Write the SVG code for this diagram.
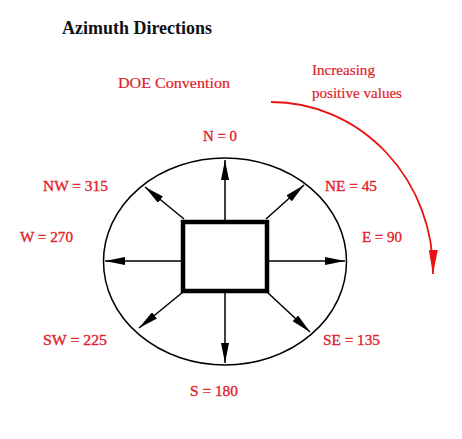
<svg xmlns="http://www.w3.org/2000/svg" width="462" height="439" viewBox="0 0 462 439">
<style>
.lbl{font-family:"Liberation Serif","Times New Roman",serif;font-size:15px;fill:#e0222a;stroke:#e0222a;stroke-width:0.35;text-anchor:middle}
.ttl{font-family:"Liberation Serif","Times New Roman",serif;font-size:18px;font-weight:bold;fill:#111}
.red{font-family:"Liberation Serif","Times New Roman",serif;font-size:15px;fill:#e0222a;stroke:#e0222a;stroke-width:0.2}
.ar{stroke:#000;stroke-width:1.5;fill:none;marker-end:url(#ah)}
</style>
<defs>
<marker id="ah" markerUnits="userSpaceOnUse" markerWidth="20" markerHeight="8" refX="20" refY="4" orient="auto">
<path d="M0,0 L20,4 L0,8 z" fill="#000"/>
</marker>
<marker id="rh" markerUnits="userSpaceOnUse" markerWidth="24" markerHeight="9" refX="24" refY="4.5" orient="auto">
<path d="M0,0 L24,4.5 L0,9 z" fill="#e81414"/>
</marker>
</defs>
<rect width="462" height="439" fill="#fff"/>
<text id="title" class="ttl" x="62" y="34" textLength="150" lengthAdjust="spacingAndGlyphs">Azimuth Directions</text>
<g id="doe"><text class="red" x="174" y="88" text-anchor="middle" textLength="112" lengthAdjust="spacingAndGlyphs">DOE Convention</text></g>
<g id="increasing"><text class="red" x="312" y="75" textLength="63" lengthAdjust="spacingAndGlyphs">Increasing</text><text class="red" x="312" y="98" textLength="90" lengthAdjust="spacingAndGlyphs">positive values</text></g>
<g id="compass">
<ellipse cx="225" cy="261.5" rx="121.5" ry="103.5" fill="none" stroke="#000" stroke-width="1.5"/>
</g>
<g id="building"><rect x="183" y="222" width="84" height="69" fill="#fff" stroke="#000" stroke-width="4.5"/></g>
<g id="connectors">
<line class="ar" x1="225" y1="220" x2="225" y2="160"/>
<line class="ar" x1="225" y1="293" x2="225" y2="363"/>
<line class="ar" x1="269" y1="261" x2="345" y2="261"/>
<line class="ar" x1="181" y1="261" x2="105" y2="261"/>
<line class="ar" x1="266" y1="219" x2="304" y2="185"/>
<line class="ar" x1="184" y1="219" x2="145" y2="187"/>
<line class="ar" x1="183" y1="292" x2="139" y2="328"/>
<line class="ar" x1="267" y1="292" x2="310" y2="332"/>
<path d="M271,102 A162,170 0 0 1 433,274" fill="none" stroke="#e81414" stroke-width="1.8" marker-end="url(#rh)"/>
</g>
<g id="n"><text class="lbl" x="220" y="141" textLength="34" lengthAdjust="spacingAndGlyphs">N = 0</text></g>
<g id="nw"><text class="lbl" x="75.5" y="191" textLength="65" lengthAdjust="spacingAndGlyphs">NW = 315</text></g>
<g id="ne"><text class="lbl" x="351" y="191" textLength="52" lengthAdjust="spacingAndGlyphs">NE = 45</text></g>
<g id="w"><text class="lbl" x="46.5" y="242" textLength="53" lengthAdjust="spacingAndGlyphs">W = 270</text></g>
<g id="e"><text class="lbl" x="382" y="242" textLength="40" lengthAdjust="spacingAndGlyphs">E = 90</text></g>
<g id="sw"><text class="lbl" x="75" y="345" textLength="64" lengthAdjust="spacingAndGlyphs">SW = 225</text></g>
<g id="se"><text class="lbl" x="351.5" y="345" textLength="57" lengthAdjust="spacingAndGlyphs">SE = 135</text></g>
<g id="s"><text class="lbl" x="214" y="396" textLength="48" lengthAdjust="spacingAndGlyphs">S = 180</text></g>
</svg>
